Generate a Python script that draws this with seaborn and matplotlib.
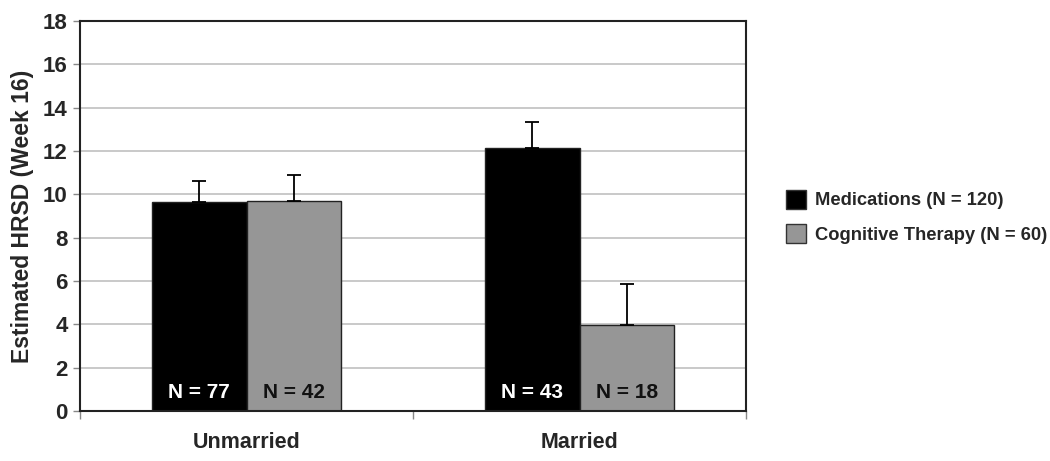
import matplotlib
matplotlib.use("Agg")
import matplotlib.pyplot as plt
import seaborn as sns
import pandas as pd
import numpy as np

categories = ["Unmarried", "Married"]
groups = ["Medications (N = 120)", "Cognitive Therapy (N = 60)"]
medications = [9.65, 12.12]
cognitive = [9.71, 3.97]
med_err = [0.98, 1.23]
cog_err = [1.18, 1.89]
n_labels_med = ["N = 77", "N = 43"]
n_labels_cog = ["N = 42", "N = 18"]
colors = ["#000000", "#969696"]

sns.set_theme(style="white")
plt.rcParams["font.family"] = ["Liberation Sans", "DejaVu Sans"]
plt.rcParams["font.weight"] = "bold"

df = pd.DataFrame({
    "category": categories * 2,
    "group": [groups[0]] * 2 + [groups[1]] * 2,
    "value": medications + cognitive,
})

fig = plt.figure(figsize=(10.5, 4.61), dpi=100)
ax = fig.add_axes([80/1050, 50/461, 666/1050, 390/461])

for y in range(2, 19, 2):
    ax.axhline(y, color="#c0c0c0", lw=1.2, zorder=0)

sns.barplot(data=df, x="category", y="value", hue="group", order=categories,
            hue_order=groups, palette=colors, width=0.57, edgecolor="#222222",
            linewidth=1.0, ax=ax, legend=True, zorder=2)

errs = med_err + cog_err
nlabs = n_labels_med + n_labels_cog
txtcol = ["white", "white", "#111111", "#111111"]
bars = [p for p in ax.patches if p.get_height() > 0][:4]
for p, e, lab, tc in zip(bars, errs, nlabs, txtcol):
    cx = p.get_x() + p.get_width() / 2
    top = p.get_height()
    ax.errorbar([cx], [top], yerr=[[0], [e]], fmt="none", ecolor="black",
                elinewidth=1.3, capsize=5, capthick=1.3, zorder=3)
    ax.text(cx, 0.42, lab, ha="center", va="bottom", color=tc,
            fontsize=15, fontweight="bold", zorder=4)

ax.set_ylim(0, 18)
ax.set_xlim(-0.5, 1.5)
ax.set_yticks(range(0, 19, 2))
ax.tick_params(axis="y", labelsize=16, length=5, width=1, color="#888888", left=True, pad=4)
ax.set_xticks([0, 1])
ax.set_xticklabels(categories, fontsize=15.5, fontweight="bold")
ax.tick_params(axis="x", length=0, pad=15)
ax.set_xticks([-0.5, 0.5, 1.5], minor=True)
ax.tick_params(axis="x", which="minor", length=6, width=1, color="#888888", bottom=True)
for lab in ax.get_yticklabels():
    lab.set_fontweight("bold")
ax.set_xlabel("")
ax.set_ylabel("Estimated HRSD (Week 16)", fontsize=16.5, fontweight="bold", labelpad=6)
for s in ax.spines.values():
    s.set_visible(True)
    s.set_color("#222222")
    s.set_linewidth(1.5)

ax.legend_.remove()
handles = [plt.Rectangle((0, 0), 1, 1, facecolor=c, edgecolor="#333333", lw=1) for c in colors]
fig.legend(handles, groups, loc="center left", bbox_to_anchor=(777/1050, 0.53),
           frameon=False, prop={"weight": "bold", "size": 13.2}, borderpad=0,
           handlelength=1.1, handleheight=1.2, labelspacing=0.8, handletextpad=0.45)

fig.savefig("out.png", dpi=100)
